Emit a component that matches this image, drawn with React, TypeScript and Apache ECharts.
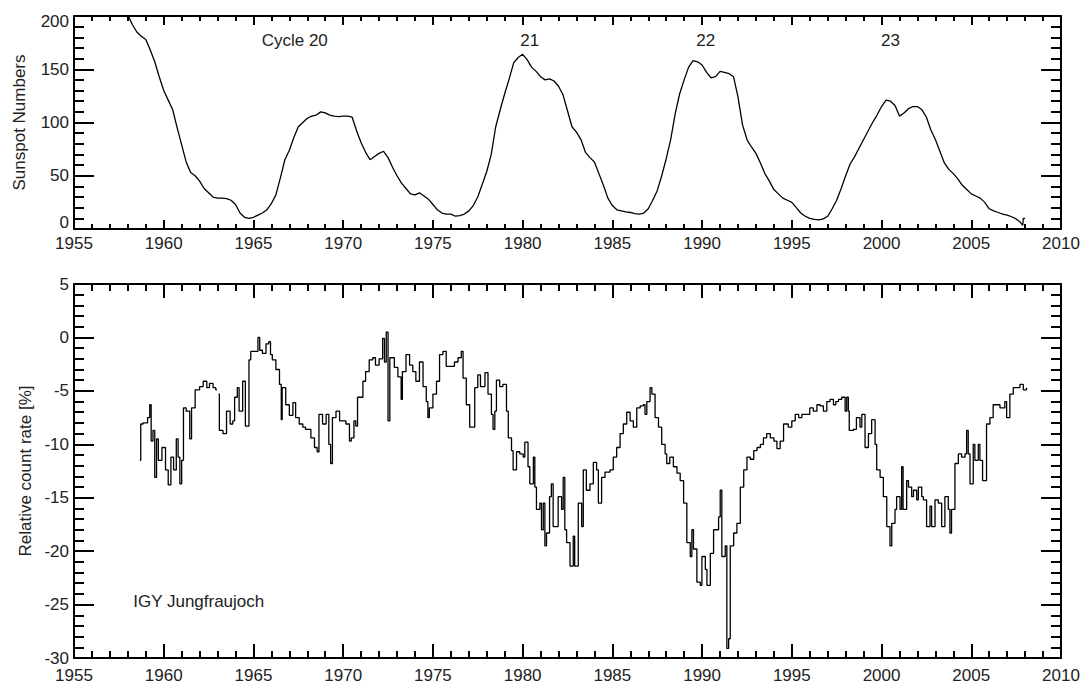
import React, { useEffect, useRef } from "react";
import * as echarts from "echarts";

const FONT = '"Liberation Sans", Arial, Helvetica, sans-serif';
const TEXT = "#222";

// ---- top panel: smoothed sunspot numbers (quarterly samples)
const sunspotStart = 1958;
const sunspotStep = 0.25;
const sunspotValues = [
  201, 192, 185, 181,
  178, 168, 157, 143,
  130, 121, 112, 95,
  79, 63, 53, 50,
  45, 38, 34, 30,
  29, 29, 28.5, 27,
  23, 15, 11, 10,
  11, 13, 15, 18,
  24, 32, 48, 65,
  74, 86, 96, 100,
  104, 106, 107, 110,
  109, 107, 106, 105.5,
  106, 106, 105, 92,
  81, 72, 65, 68,
  71, 73, 67, 58,
  50, 43, 38, 33,
  32, 34, 31, 28,
  23, 18, 15, 14,
  14, 12, 12.5, 14,
  17, 22, 30, 42,
  54, 70, 96, 112,
  127, 141, 156, 161,
  164, 159, 152, 148,
  143, 140, 141, 139,
  134, 126, 111, 96,
  91, 84, 72, 67,
  63, 52, 41, 29,
  22, 18, 17, 16,
  15.5, 14.5, 14, 15,
  19, 27, 36, 50,
  66, 84, 108, 127,
  140, 152, 158, 157,
  154, 147, 142, 143,
  148, 147, 146, 143,
  124, 98, 84, 77,
  71, 62, 52, 45,
  37, 33, 29, 27,
  25, 20, 15, 12,
  10, 9, 8.5, 9.5,
  12, 19, 27, 38,
  50, 61, 68, 76,
  84, 92, 100, 107,
  115, 121, 120, 116,
  106, 109, 113, 115,
  115, 112, 105, 93,
  84, 73, 62, 56,
  52, 47, 41, 37,
  33, 31, 29, 25,
  19, 17, 15.5, 14,
  13, 11.5, 9.5, 6,
];
const sunspotTailYears = [2007.87, 2007.9, 2008.0];
const sunspotTailValues = [3.5, 10, 10];

const cycleLabels = ["Cycle 20", "21", "22", "23"];
const cycleYears = [1967.3, 1980.4, 1990.2, 2000.5];
const cycleLabelLevel = 177;

// ---- bottom panel: relative count rate [%], IGY Jungfraujoch
const cosmic1958 = [
  [1958.67, -11.5], [1958.72, -8.1], [1958.85, -8.0], [1959.0, -8.0], [1959.1, -7.5],
  [1959.22, -6.3], [1959.3, -9.7], [1959.4, -8.7], [1959.5, -13.1], [1959.6, -9.5],
  [1959.7, -11.5], [1959.9, -10.3], [1960.1, -12.4], [1960.25, -13.8], [1960.4, -11.2],
  [1960.55, -12.4], [1960.7, -9.5], [1960.8, -11.2], [1960.9, -13.7], [1961.0, -11.5],
  [1961.1, -6.6], [1961.25, -6.9], [1961.45, -9.5], [1961.55, -6.6], [1961.75, -4.9],
  [1962.0, -4.6], [1962.2, -4.1], [1962.4, -4.7], [1962.55, -4.3], [1962.75, -4.7],
  [1962.9, -4.9], [1962.97, -4.9],
];
const cosmic1963 = [
  [1963.05, -5.3], [1963.1, -8.7], [1963.3, -9.0], [1963.5, -6.9], [1963.7, -8.1],
  [1963.85, -7.8], [1963.95, -5.6], [1964.1, -4.7], [1964.2, -6.9], [1964.4, -4.1],
  [1964.55, -8.3], [1964.75, -2.1], [1964.85, -1.3], [1965.0, -1.3], [1965.25, 0.0],
  [1965.35, -1.2], [1965.5, -1.5], [1965.7, -0.6], [1965.85, -0.4], [1965.95, -1.6],
  [1966.05, -2.1], [1966.25, -3.0], [1966.45, -4.4], [1966.55, -7.7], [1966.6, -4.7],
  [1966.8, -6.3], [1967.0, -7.3], [1967.2, -6.1], [1967.35, -7.5], [1967.55, -8.1],
  [1967.75, -8.4], [1967.9, -8.6], [1968.2, -9.4], [1968.4, -10.3], [1968.55, -10.7],
  [1968.65, -7.2], [1968.85, -8.1], [1969.05, -7.2], [1969.2, -10.0], [1969.3, -11.8],
  [1969.4, -7.5], [1969.6, -6.9], [1969.8, -7.8], [1969.95, -7.8], [1970.15, -8.1],
  [1970.35, -9.7], [1970.45, -9.4], [1970.6, -7.8], [1970.7, -8.3], [1970.8, -5.6],
  [1970.95, -5.6], [1971.1, -4.1], [1971.25, -3.2], [1971.45, -2.1], [1971.65, -1.9],
  [1971.8, -2.6], [1972.0, -2.0], [1972.2, -0.1], [1972.3, -2.3], [1972.4, 0.5],
  [1972.5, -7.8], [1972.6, -1.9], [1972.85, -2.8], [1973.05, -3.7], [1973.23, -5.8],
  [1973.3, -3.2], [1973.5, -1.6], [1973.7, -2.6], [1973.88, -3.2], [1974.05, -4.1],
  [1974.25, -2.3], [1974.45, -4.6], [1974.63, -6.0], [1974.72, -7.5], [1974.8, -6.6],
  [1975.0, -5.3], [1975.2, -4.1], [1975.37, -1.6], [1975.56, -1.3], [1975.74, -2.7],
  [1976.0, -2.7], [1976.2, -2.3], [1976.4, -1.9], [1976.58, -1.3], [1976.68, -3.8],
  [1976.86, -6.3], [1977.05, -8.4], [1977.25, -8.4], [1977.33, -4.7], [1977.5, -3.5],
  [1977.65, -4.6], [1977.9, -3.3],
];
const cosmic1978 = [
  [1978.07, -5.3], [1978.26, -7.2], [1978.35, -8.6], [1978.45, -6.9], [1978.54, -4.0],
  [1978.72, -4.6], [1978.9, -4.4], [1979.1, -6.9], [1979.2, -9.4], [1979.38, -10.6],
  [1979.47, -12.4], [1979.66, -10.7], [1979.84, -10.9], [1980.03, -11.2], [1980.12, -9.8],
  [1980.3, -12.1], [1980.4, -13.7], [1980.6, -11.2], [1980.68, -14.0], [1980.77, -16.1],
  [1980.96, -15.5], [1981.05, -18.0], [1981.15, -15.5], [1981.24, -19.5], [1981.33, -18.3],
  [1981.5, -14.9], [1981.6, -13.7], [1981.7, -17.7], [1981.88, -17.7], [1981.98, -14.9],
  [1982.17, -16.1], [1982.26, -13.1], [1982.35, -18.0], [1982.45, -19.2], [1982.64, -21.4],
  [1982.82, -18.6], [1982.9, -21.4], [1983.1, -15.5], [1983.29, -17.7], [1983.38, -12.4],
  [1983.55, -14.3], [1983.75, -13.7], [1983.94, -11.7], [1984.12, -12.4], [1984.22, -15.5],
  [1984.4, -13.1], [1984.59, -12.6], [1984.87, -12.4], [1985.05, -11.2], [1985.24, -10.3],
  [1985.43, -9.0], [1985.61, -8.1], [1985.8, -7.0], [1985.99, -7.8], [1986.17, -8.4],
  [1986.36, -6.6], [1986.55, -6.4], [1986.73, -6.3], [1986.82, -7.2], [1986.92, -6.0],
  [1987.1, -4.7], [1987.2, -5.3], [1987.38, -7.5], [1987.57, -8.4], [1987.75, -10.0],
  [1987.94, -10.9], [1988.03, -11.8], [1988.2, -11.2], [1988.4, -12.1], [1988.6, -12.7],
  [1988.78, -13.4], [1988.97, -15.5], [1989.15, -19.2], [1989.34, -20.5], [1989.43, -18.0],
  [1989.52, -19.8], [1989.71, -22.9], [1989.9, -23.2], [1989.99, -20.5], [1990.18, -21.7],
  [1990.27, -23.2], [1990.46, -20.2], [1990.64, -18.0], [1990.92, -16.8], [1991.01, -14.3],
  [1991.1, -20.5], [1991.29, -19.5], [1991.38, -29.1], [1991.48, -28.2], [1991.57, -19.5],
  [1991.76, -18.3], [1991.94, -17.4], [1992.13, -14.0], [1992.32, -12.4], [1992.5, -11.2],
  [1992.69, -11.4], [1992.88, -10.6], [1993.06, -10.3], [1993.25, -10.0],
];
const cosmic1993 = [
  [1993.42, -9.4], [1993.6, -9.0], [1993.8, -9.4], [1994.0, -9.7], [1994.17, -10.4],
  [1994.35, -9.7], [1994.54, -8.1], [1994.8, -8.4], [1995.0, -7.8], [1995.19, -7.2],
  [1995.38, -7.5], [1995.56, -7.2], [1995.83, -7.2], [1996.0, -6.6], [1996.2, -6.9],
  [1996.4, -6.3], [1996.58, -6.4], [1996.76, -6.9], [1996.95, -6.0], [1997.13, -5.8],
  [1997.32, -6.3], [1997.45, -6.0], [1997.6, -5.8], [1997.78, -5.6], [1997.97, -6.9],
  [1998.06, -5.6], [1998.15, -6.9], [1998.2, -8.7], [1998.43, -8.6], [1998.6, -7.5],
  [1998.8, -8.4], [1998.9, -7.2], [1999.08, -10.3], [1999.27, -9.0], [1999.45, -7.7],
  [1999.64, -10.0], [1999.73, -12.4], [1999.92, -13.1], [2000.1, -14.9], [2000.29, -17.7],
  [2000.47, -19.5], [2000.57, -17.4], [2000.75, -16.1], [2000.84, -14.9], [2001.03, -16.1],
  [2001.12, -12.1], [2001.2, -16.1], [2001.4, -13.4], [2001.5, -14.0], [2001.68, -14.9],
  [2001.78, -14.3], [2001.96, -15.2], [2002.05, -14.0], [2002.24, -14.9], [2002.33, -15.2],
  [2002.51, -17.7], [2002.7, -15.8], [2002.79, -17.7], [2002.98, -15.2], [2003.16, -15.5],
  [2003.35, -17.7], [2003.53, -14.9], [2003.72, -16.1], [2003.81, -18.3], [2003.9, -16.1],
  [2004.09, -11.8], [2004.28, -10.9], [2004.46, -11.2], [2004.65, -10.9], [2004.74, -8.7],
  [2004.83, -10.9], [2004.93, -13.7], [2005.11, -10.0], [2005.2, -11.5], [2005.39, -10.0],
  [2005.48, -11.5], [2005.63, -13.4], [2005.85, -8.1], [2006.04, -7.5], [2006.22, -6.3],
  [2006.41, -6.3], [2006.6, -6.6], [2006.87, -6.0], [2006.97, -7.5], [2007.15, -5.3],
  [2007.34, -4.7], [2007.52, -4.7], [2007.71, -4.4], [2007.9, -4.9], [2008.08, -4.7],
];
const cosmicGapYear = 1963.0;
const stationLabel = "IGY Jungfraujoch";
const stationLabelAt = [1958.3, -24.7];

function xAxisDef(gridIndex: number, position: string, showLabel: boolean, major: number, minor: number, margin: number) {
  return {
    type: "value",
    gridIndex,
    position,
    min: 1955,
    max: 2010,
    interval: 5,
    axisLine: { show: true, onZero: false, lineStyle: { color: "#000", width: 2 } },
    axisTick: { show: true, inside: true, length: major, lineStyle: { color: "#000", width: 2 } },
    minorTick: { show: true, splitNumber: 5, length: minor, lineStyle: { color: "#000", width: 2 } },
    axisLabel: {
      show: showLabel,
      color: TEXT,
      fontSize: 17,
      fontFamily: FONT,
      margin,
      showMinLabel: true,
      showMaxLabel: true,
      formatter: (v: number) => String(v),
    },
    splitLine: { show: false },
    minorSplitLine: { show: false },
  };
}

function yAxisDef(gridIndex: number, position: string, showLabel: boolean, min: number, max: number, interval: number, extra: any) {
  return {
    type: "value",
    gridIndex,
    position,
    min,
    max,
    interval,
    axisLine: { show: true, onZero: false, lineStyle: { color: "#000", width: 2 } },
    axisTick: { show: true, inside: true, length: 20, lineStyle: { color: "#000", width: 2 } },
    minorTick: { show: true, splitNumber: 5, length: 10, lineStyle: { color: "#000", width: 2 } },
    axisLabel: {
      show: showLabel,
      color: TEXT,
      fontSize: 17,
      fontFamily: FONT,
      margin: 5,
      showMinLabel: true,
      showMaxLabel: true,
      formatter: (v: number) => String(v),
    },
    splitLine: { show: false },
    minorSplitLine: { show: false },
    ...extra,
  };
}

export default function App() {
  const ref = useRef<HTMLDivElement>(null);
  useEffect(() => {
    const chart = echarts.init(ref.current!, null, { renderer: "svg" });

    const sunspotData: any[] = sunspotValues.map((v, i) => [sunspotStart + i * sunspotStep, v]);
    sunspotTailYears.forEach((y, i) => sunspotData.push([y, sunspotTailValues[i]]));

    const cosmicData: any[] = [
      ...cosmic1958,
      [cosmicGapYear, "-"],
      ...cosmic1963,
      ...cosmic1978,
      ...cosmic1993,
    ];

    const richLabel = { fontSize: 17, fontFamily: FONT, color: TEXT };

    const option: any = {
      animation: false,
      backgroundColor: "#fff",
      grid: [
        { left: 74, top: 16, width: 987, height: 213 },
        { left: 74, top: 284, width: 987, height: 375 },
      ],
      xAxis: [
        xAxisDef(0, "bottom", true, 9, 5, 6),
        xAxisDef(0, "top", false, 9, 5, 6),
        xAxisDef(1, "bottom", true, 14, 7, 9),
        xAxisDef(1, "top", false, 14, 7, 9),
      ],
      yAxis: [
        yAxisDef(0, "left", true, 0, 200, 50, {
          name: "Sunspot Numbers",
          nameLocation: "middle",
          nameGap: 46,
          nameTextStyle: { color: TEXT, fontSize: 17, fontFamily: FONT },
          axisLabel: {
            show: true,
            color: TEXT,
            fontSize: 17,
            fontFamily: FONT,
            margin: 5,
            showMinLabel: true,
            showMaxLabel: true,
            formatter: (v: number) => (v === 0 ? "{lo|0}" : v === 200 ? "{hi|200}" : String(v)),
            rich: {
              lo: { ...richLabel, padding: [0, 0, 13, 0] },
              hi: { ...richLabel, padding: [11, 0, 0, 0] },
            },
          },
        }),
        yAxisDef(0, "right", false, 0, 200, 50, {}),
        yAxisDef(1, "left", true, -30, 5, 5, {
          name: "Relative count rate [%]",
          nameLocation: "middle",
          nameGap: 40,
          nameTextStyle: { color: TEXT, fontSize: 17, fontFamily: FONT },
        }),
        yAxisDef(1, "right", false, -30, 5, 5, {}),
      ],
      series: [
        {
          type: "line",
          xAxisIndex: 0,
          yAxisIndex: 0,
          data: sunspotData,
          showSymbol: false,
          symbol: "none",
          lineStyle: { color: "#000", width: 1.3 },
          clip: true,
          silent: true,
        },
        {
          type: "line",
          xAxisIndex: 2,
          yAxisIndex: 2,
          data: cosmicData,
          step: "end",
          connectNulls: false,
          showSymbol: false,
          symbol: "none",
          lineStyle: { color: "#000", width: 1.3 },
          clip: true,
          silent: true,
        },
      ],
    };
    chart.setOption(option);

    const graphics: any[] = cycleLabels.map((t, i) => {
      const p = chart.convertToPixel({ seriesIndex: 0 }, [cycleYears[i], cycleLabelLevel]) as number[];
      return {
        type: "text",
        x: p[0],
        y: p[1],
        silent: true,
        style: { text: t, fill: TEXT, fontSize: 17, fontFamily: FONT, align: "center", verticalAlign: "middle" },
      };
    });
    const sp = chart.convertToPixel({ seriesIndex: 1 }, stationLabelAt) as number[];
    graphics.push({
      type: "text",
      x: sp[0],
      y: sp[1],
      silent: true,
      style: { text: stationLabel, fill: TEXT, fontSize: 17, fontFamily: FONT, align: "left", verticalAlign: "middle" },
    });
    chart.setOption({ graphic: graphics });

    return () => chart.dispose();
  }, []);
  return (
    <div
      ref={ref}
      style={{ position: "fixed", left: 0, top: 0, width: 1085, height: 684, background: "#fff" }}
    />
  );
}
